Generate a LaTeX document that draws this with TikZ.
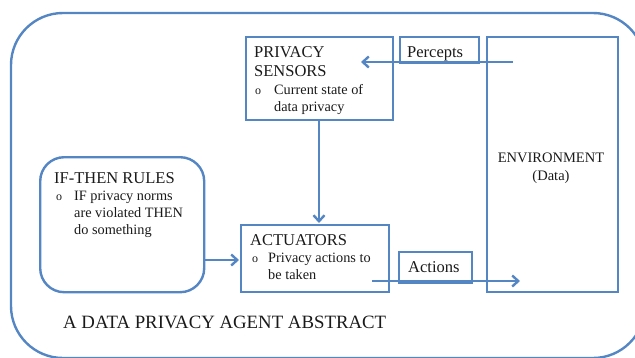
\documentclass[tikz,border=0pt]{standalone}
\usepackage{fontspec}
\setmainfont{Liberation Serif}
\newfontfamily\timesface{Liberation Serif}
\usetikzlibrary{arrows.meta}
\definecolor{agentblue}{HTML}{5586C4}
\definecolor{inktext}{HTML}{1A1A1A}
\tikzset{
  box/.style={draw=agentblue, line width=2.4pt, inner sep=0pt, anchor=north west},
  flow/.style={draw=agentblue, line width=2.4pt, -{Straight Barb[length=6pt,width=11pt,line width=2.4pt]}},
  head/.style={anchor=base west, inner sep=0pt, text=inktext, font=\timesface\fontsize{16.5}{19}\selectfont},
  item/.style={anchor=base west, inner sep=0pt, text=inktext, font=\timesface\fontsize{14.3}{17}\selectfont},
  dot/.style={anchor=base west, inner sep=0pt, text=inktext, font=\timesface\fontsize{12}{13}\selectfont},
}
\begin{document}
\begin{tikzpicture}[x=1pt, y=-1pt]
\useasboundingbox (0,0) rectangle (635,357);
\clip (0,0) rectangle (635,357);

% agent frame
\draw[draw=agentblue, line width=2.4pt, rounded corners=52pt] (11,13) rectangle (645,358);

% boxes
\node[box, minimum width=147pt, minimum height=83pt] (sens) at (245,36) {};
\node[box, minimum width=79pt, minimum height=26pt] (perc) at (399,36) {};
\node[box, minimum width=131pt, minimum height=255pt] (env) at (486,36) {};
\node[box, minimum width=148pt, minimum height=67pt] (act) at (240,224) {};
\node[box, minimum width=73pt, minimum height=31pt] (actn) at (398,251) {};
\node[box, rounded corners=24pt, minimum width=164pt, minimum height=135pt] (rules) at (39,156) {};

% sensors text
\node[head] (sensA) at (254,57) {PRIVACY};
\node[head] (sensB) at (254,76) {SENSORS};
\node[dot] (sensO) at (255,94) {o};
\node[item] (sensC) at (274,94) {Current state of};
\node[item] (sensD) at (274,111) {data privacy};

% rules text
\node[head] (rulA) at (54,183) {IF-THEN RULES};
\node[dot] (rulO) at (56,200) {o};
\node[item] (rulB) at (74,200) {IF privacy norms};
\node[item] (rulC) at (74,217) {are violated THEN};
\node[item] (rulD) at (74,234) {do something};

% actuators text
\node[head] (actA) at (250,245) {ACTUATORS};
\node[dot] (actO) at (252,262) {o};
\node[item] (actB) at (268,262) {Privacy actions to};
\node[item] (actC) at (268,279) {be taken};

% labels
\node[head] (percT) at (407,57) {Percepts};
\node[head] (actnT) at (408,272) {Actions};
\node[item, anchor=base, font=\timesface\fontsize{14.5}{17}\selectfont] (envA) at (551,162) {ENVIRONMENT};
\node[item, anchor=base, font=\timesface\fontsize{14.5}{17}\selectfont] (envB) at (551,180) {(Data)};
\node[head, font=\timesface\fontsize{18.8}{21}\selectfont] (title) at (63,328) {A DATA PRIVACY AGENT ABSTRACT};

% connectors
\coordinate (pStart) at (513,62);
\coordinate (pEnd) at (361,62);
\coordinate (aStart) at (372,281);
\coordinate (aEnd) at (520,281);
\coordinate (sDown) at (319,119);
\coordinate (aTop) at (319,223);
\coordinate (rOut) at (203,260);
\coordinate (aIn) at (239,260);

\draw[flow] (pStart) -- (pEnd);
\draw[flow] (sDown) -- (aTop);
\draw[flow] (rOut) -- (aIn);
\draw[flow] (aStart) -- (aEnd);
\end{tikzpicture}
\end{document}
